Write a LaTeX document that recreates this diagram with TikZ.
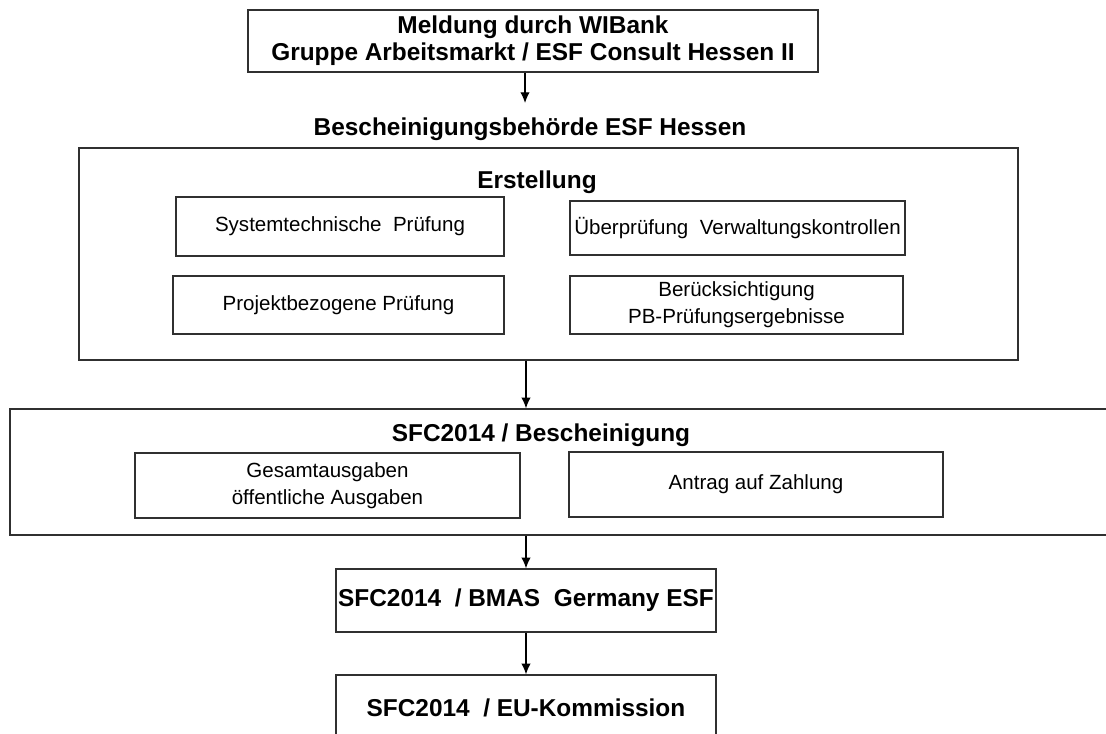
\documentclass[tikz,border=0pt]{standalone}
\usepackage{fontspec}
\setmainfont{Liberation Sans}
\usetikzlibrary{arrows.meta}
\definecolor{edge}{HTML}{303030}
\tikzset{
  wh/.style n args={2}{minimum width={#1*0.75pt}, minimum height={#2*0.75pt}},
  box/.style={draw=edge, line width=1pt, fill=white, inner sep=0pt, align=center,
              font=\fontsize{15.4}{20}\selectfont},
  bbox/.style={box, font=\bfseries\fontsize{18.3}{20.3}\selectfont},
  title/.style={inner sep=0pt, align=center, font=\bfseries\fontsize{18.3}{20.3}\selectfont},
  arr/.style={draw=black, line width=0.9pt, -{Latex[length=8pt,width=7pt]}}
}
\begin{document}
\begin{tikzpicture}[x=0.75pt,y=-0.75pt]
\useasboundingbox (0,0) rectangle (1106,733);
\clip (0,0) rectangle (1106,733);
\fill[white] (0,0) rectangle (1106,733);
% top box
\node[bbox, wh={570}{62}] (top) at (533,41) {Meldung durch WIBank\\Gruppe Arbeitsmarkt / ESF Consult Hessen II};
\node[title] (beh) at (530,129) {Bescheinigungsbeh\"orde ESF Hessen};
\coordinate (a1) at (525,103);
% Erstellung
\node[box, wh={939}{212}] (erst) at (548.5,254) {};
\node[title] (erstt) at (537,182) {Erstellung};
\node[box, wh={328}{59}] (sys) at (340,226.5) {Systemtechnische\ \ Pr\"ufung};
\node[box, wh={331}{58}] (proj) at (338.5,305) {Projektbezogene Pr\"ufung};
\node[box, wh={335}{54}] (ueb) at (737.5,228) {\"Uberpr\"ufung\ \ Verwaltungskontrollen};
\node[box, wh={333}{58}] (ber) at (736.5,305) {Ber\"ucksichtigung\\PB-Pr\"ufungsergebnisse};
% SFC Bescheinigung
\node[box, wh={1110}{126}] (sfc) at (565,472) {};
\node[title] (sfct) at (541,435) {SFC2014 / Bescheinigung};
\node[box, wh={385}{65}] (ges) at (327.5,485.5) {Gesamtausgaben\\\"offentliche Ausgaben};
\node[box, wh={374}{65}] (ant) at (756,484.5) {Antrag auf Zahlung};
% lower boxes
\node[bbox, wh={380}{63}] (bmas) at (526,600.5) {SFC2014\ \ /\ BMAS\ \ Germany ESF};
\node[bbox, wh={380}{66}] (eu) at (526,708) {SFC2014\ \ /\ EU-Kommission};
% arrows
\draw[arr] (top.south -| a1) -- (a1);
\draw[arr] (erst.south -| bmas.north) -- (sfc.north -| bmas.north);
\draw[arr] (sfc.south -| bmas.north) -- (bmas.north);
\draw[arr] (bmas.south) -- (eu.north);
\end{tikzpicture}
\end{document}
